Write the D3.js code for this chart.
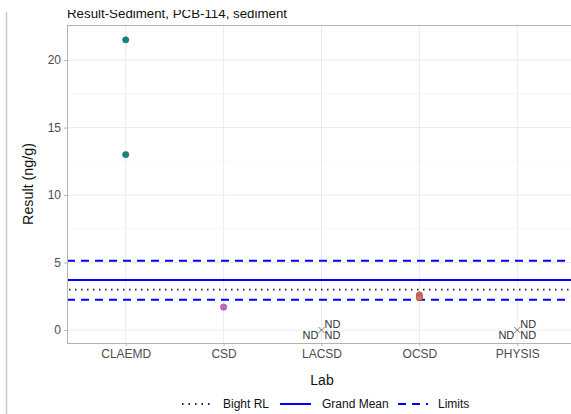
<!DOCTYPE html>
<html><head><meta charset="utf-8">
<script src="https://cdn.jsdelivr.net/npm/d3@7"></script>
<style>body{margin:0;background:#fff;}svg{display:block;font-family:"Liberation Sans",Arial,sans-serif;}</style>
</head><body>
<svg id="c" width="571" height="414"></svg>
<script>
const labs = ["CLAEMD","CSD","LACSD","OCSD","PHYSIS"];
const pointLab = ["CLAEMD","CLAEMD","CSD","OCSD","OCSD"];
const pointVal = [21.5,13.0,1.7,2.6,2.4];
const pointColor = ["#0b8a84","#0b8a84","#d35fd3","#e8665a","#e8665a"];
const ndLab = ["LACSD","PHYSIS"];
const ndVal = [0,0];
const yTicks = [0,5,10,15,20];
const yMinor = [2.5,7.5,12.5,17.5];
const bightRL = 3.0, grandMean = 3.7, limitLow = 2.25, limitHigh = 5.13;
const title = "Result-Sediment, PCB-114, sediment";
const legendLabels = ["Bight RL","Grand Mean","Limits"];

const svg = d3.select("#c");
const L = 67, R = 576, T = 25, B = 343;
const x = d3.scalePoint().domain(labs).range([L,R]).padding(0.6);
const y = d3.scaleLinear().domain([-0.96,22.6]).range([B,T]);

// frame line at left
svg.append("line").attr("x1",6.5).attr("x2",6.5).attr("y1",12).attr("y2",414).attr("stroke","#c8c8c8").attr("stroke-width",1.5);

const g = svg.append("g");
// grid
g.selectAll(".minor").data(yMinor).join("line").attr("x1",L).attr("x2",R).attr("y1",d=>y(d)).attr("y2",d=>y(d)).attr("stroke","#f2f2f2").attr("stroke-width",0.6);
g.selectAll(".major").data(yTicks).join("line").attr("x1",L).attr("x2",R).attr("y1",d=>y(d)).attr("y2",d=>y(d)).attr("stroke","#ebebeb").attr("stroke-width",1);
g.selectAll(".vmaj").data(labs).join("line").attr("x1",d=>x(d)).attr("x2",d=>x(d)).attr("y1",T).attr("y2",B).attr("stroke","#ebebeb").attr("stroke-width",1);

// reference lines
g.append("line").attr("x1",L).attr("x2",R).attr("y1",y(limitHigh)).attr("y2",y(limitHigh)).attr("stroke","#0000ff").attr("stroke-width",2).attr("stroke-dasharray","8,6");
g.append("line").attr("x1",L).attr("x2",R).attr("y1",y(limitLow)).attr("y2",y(limitLow)).attr("stroke","#0000ff").attr("stroke-width",2).attr("stroke-dasharray","8,6");
g.append("line").attr("x1",L).attr("x2",R).attr("y1",y(grandMean)).attr("y2",y(grandMean)).attr("stroke","#0000ff").attr("stroke-width",2);
g.append("line").attr("x1",L).attr("x2",R).attr("y1",y(bightRL)).attr("y2",y(bightRL)).attr("stroke","#222").attr("stroke-width",1.8).attr("stroke-dasharray","1.5,4.5").attr("stroke-dashoffset",-2);

// points
g.selectAll(".pt").data(pointVal).join("circle").attr("cx",(d,i)=>x(pointLab[i])).attr("cy",d=>y(d)).attr("r",3.2).attr("fill",(d,i)=>pointColor[i]).attr("stroke","#444").attr("stroke-width",0.6).attr("stroke-opacity",0.7);

// ND markers
ndLab.forEach((lab,i)=>{
  const cx = x(lab), cy = y(ndVal[i]);
  g.append("path").attr("d",`M${cx-3},${cy-3}L${cx+3},${cy+3}M${cx-3},${cy+3}L${cx+3},${cy-3}`).attr("stroke","#555").attr("stroke-width",0.8);
  const t = [[cx+3,cy-6,"start"],[cx-3,cy+5,"end"],[cx+3,cy+5,"start"]];
  t.forEach(([tx,ty,a])=>g.append("text").attr("x",tx).attr("y",ty).attr("dy","0.35em").attr("text-anchor",a).attr("font-size",11).attr("fill","#333").text("ND"));
});

// panel border
g.append("rect").attr("x",L+0.5).attr("y",T+0.5).attr("width",R-L).attr("height",B-T).attr("fill","none").attr("stroke","#b3b3b3").attr("stroke-width",1);

// y axis
const ya = svg.append("g").attr("transform",`translate(${L},0)`).call(d3.axisLeft(y).tickValues(yTicks).tickSize(3).tickPadding(3));
ya.select(".domain").remove();
ya.selectAll("line").attr("stroke","#b3b3b3");
ya.selectAll("text").attr("font-size",12).attr("fill","#4d4d4d").attr("font-family","Liberation Sans,Arial,sans-serif");
// x axis
const xa = svg.append("g").attr("transform",`translate(0,${B})`).call(d3.axisBottom(x).tickSize(3).tickPadding(3));
xa.select(".domain").remove();
xa.selectAll("line").attr("stroke","#b3b3b3");
xa.selectAll("text").attr("font-size",12).attr("fill","#4d4d4d").attr("font-family","Liberation Sans,Arial,sans-serif");

// titles
svg.append("text").attr("x",L).attr("y",18).attr("font-size",13.3).attr("fill","#111").text(title);
// the top of the picture is cut off
svg.append("rect").attr("x",0).attr("y",0).attr("width",571).attr("height",10).attr("fill","#fff");
svg.append("text").attr("transform",`translate(33,${(T+B)/2}) rotate(-90)`).attr("text-anchor","middle").attr("font-size",14.3).attr("fill","#111").text("Result (ng/g)");
svg.append("text").attr("x",322).attr("y",385).attr("text-anchor","middle").attr("font-size",14).attr("fill","#111").text("Lab");

// legend
const ly = 404;
const leg = svg.append("g");
leg.append("line").attr("x1",182).attr("x2",213).attr("y1",ly).attr("y2",ly).attr("stroke","#222").attr("stroke-width",1.8).attr("stroke-dasharray","1.5,5");
leg.append("text").attr("x",223).attr("y",ly).attr("dy","0.35em").attr("font-size",12).attr("fill","#111").text(legendLabels[0]);
leg.append("line").attr("x1",280).attr("x2",311).attr("y1",ly).attr("y2",ly).attr("stroke","#0000ff").attr("stroke-width",2);
leg.append("text").attr("x",322).attr("y",ly).attr("dy","0.35em").attr("font-size",12).attr("fill","#111").text(legendLabels[1]);
leg.append("line").attr("x1",398).attr("x2",428).attr("y1",ly).attr("y2",ly).attr("stroke","#0000ff").attr("stroke-width",2).attr("stroke-dasharray","8,6");
leg.append("text").attr("x",438).attr("y",ly).attr("dy","0.35em").attr("font-size",12).attr("fill","#111").text(legendLabels[2]);
</script>
</body></html>
